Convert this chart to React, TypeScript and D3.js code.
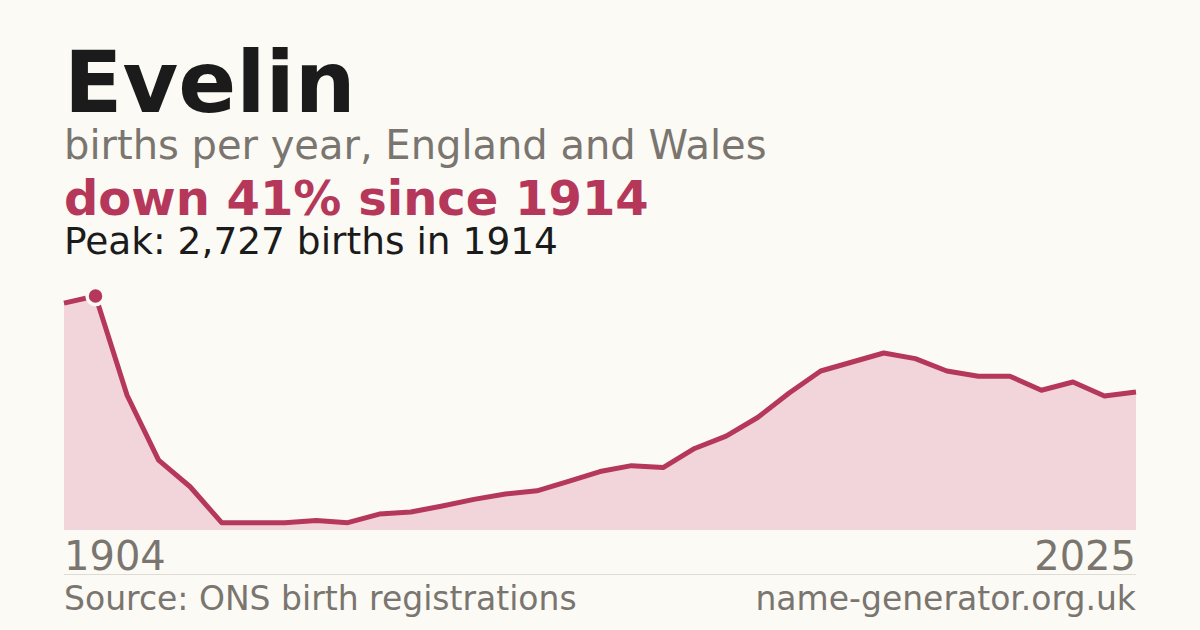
import React from "react";
import * as d3 from "d3";

const title = "Evelin";
const subtitle = "births per year, England and Wales";
const headline = "down 41% since 1914";
const peakNote = "Peak: 2,727 births in 1914";
const startYear = "1904";
const endYear = "2025";
const sourceText = "Source: ONS birth registrations";
const siteText = "name-generator.org.uk";

// births per period (evenly spaced periods from 1904 to 2025)
const births = [
  2644, 2727, 1570, 814, 504, 85, 85, 85, 110, 85,
  186, 209, 279, 357, 419, 457, 567, 681, 750, 727,
  950, 1094, 1311, 1597, 1853, 1958, 2063, 1997, 1853, 1792,
  1792, 1629, 1725, 1562, 1609,
];
const peakIndex = 1;

const W = 1200;
const H = 630;
const left = 64;
const right = 1136;
const top = 296;
const bottom = 530;

const BG = "#fbfaf5";
const RED = "#b5385a";
const FILL = "#f2d5da";
const GREY = "#7a756f";
const DARK = "#1b1b1b";
const FONT = "'DejaVu Sans', sans-serif";

export default function App() {
  const x = d3.scaleLinear().domain([0, births.length - 1]).range([left, right]);
  const y = d3.scaleLinear().domain([0, d3.max(births) as number]).range([bottom, top]);

  const area = d3
    .area<number>()
    .x((_, i) => x(i))
    .y0(bottom)
    .y1((d) => y(d));
  const line = d3
    .line<number>()
    .x((_, i) => x(i))
    .y((d) => y(d));

  return (
    <svg
      width={W}
      height={H}
      viewBox={`0 0 ${W} ${H}`}
      style={{ position: "fixed", left: 0, top: 0, display: "block" }}
    >
      <rect x={0} y={0} width={W} height={H} fill={BG} />
      <text x={left} y={112} fontFamily={FONT} fontWeight="bold" fontSize={85.5} fill={DARK}>
        {title}
      </text>
      <text x={left} y={159} fontFamily={FONT} fontSize={40} fill={GREY}>
        {subtitle}
      </text>
      <text x={left} y={215} fontFamily={FONT} fontWeight="bold" fontSize={48} fill={RED}>
        {headline}
      </text>
      <text x={left} y={254} fontFamily={FONT} fontSize={37.5} fill={DARK}>
        {peakNote}
      </text>

      <path d={area(births) || ""} fill={FILL} />
      <path
        d={line(births) || ""}
        fill="none"
        stroke={RED}
        strokeWidth={5}
        strokeLinejoin="round"
        strokeLinecap="butt"
      />
      <circle
        cx={x(peakIndex)}
        cy={y(births[peakIndex])}
        r={8.5}
        fill={RED}
        stroke={BG}
        strokeWidth={3.5}
      />

      <text x={left} y={570} fontFamily={FONT} fontSize={40} fill={GREY}>
        {startYear}
      </text>
      <text x={right} y={570} fontFamily={FONT} fontSize={40} fill={GREY} textAnchor="end">
        {endYear}
      </text>
      <line x1={left} x2={right} y1={574.5} y2={574.5} stroke="#dedbd5" strokeWidth={1} />
      <text x={left} y={610} fontFamily={FONT} fontSize={33} fill={GREY}>
        {sourceText}
      </text>
      <text x={right} y={610} fontFamily={FONT} fontSize={33} fill={GREY} textAnchor="end">
        {siteText}
      </text>
    </svg>
  );
}
